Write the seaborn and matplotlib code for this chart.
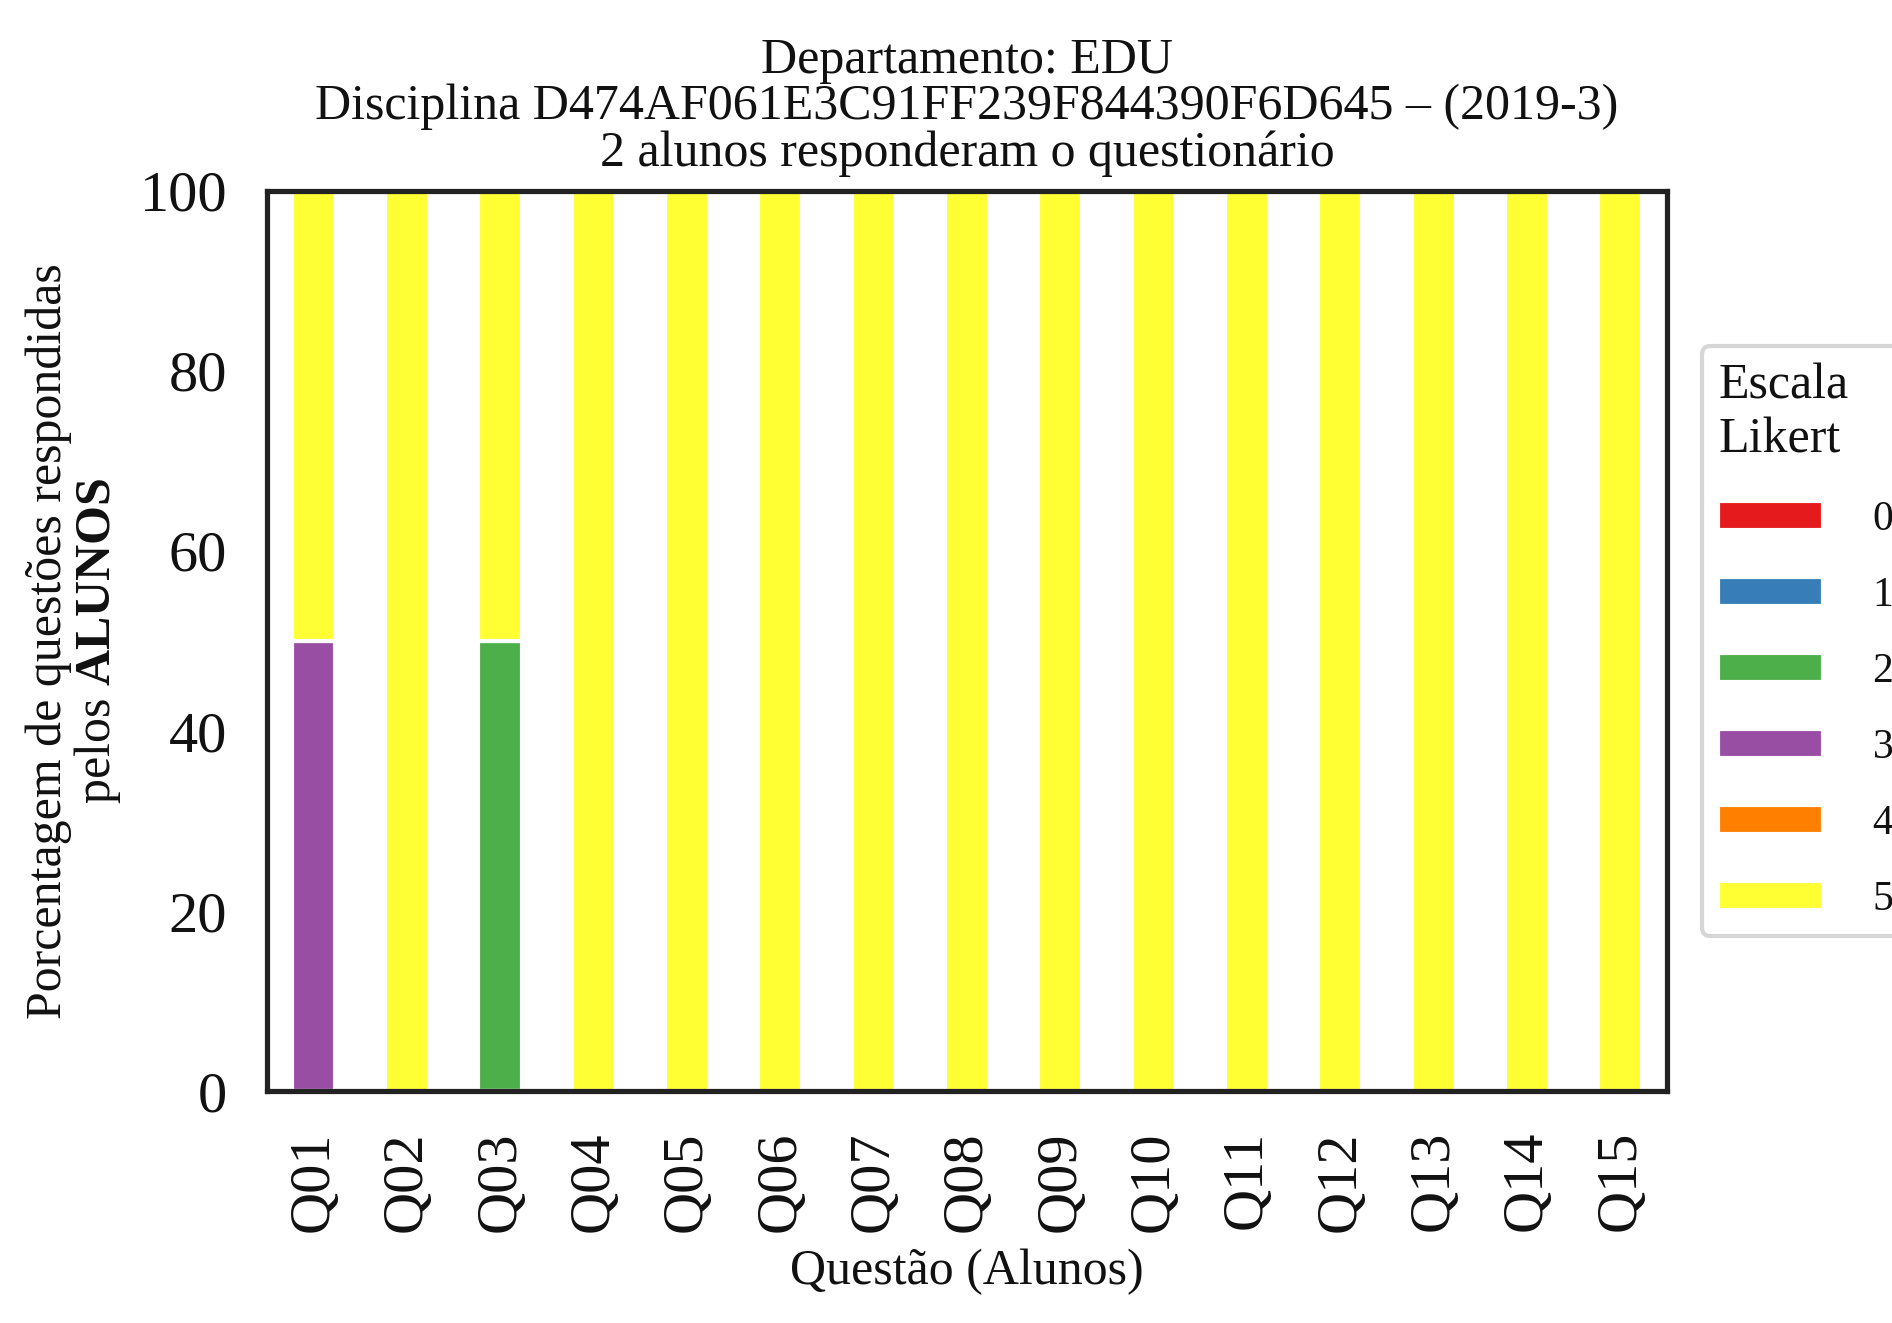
import pandas as pd
import matplotlib.pyplot as plt
import seaborn as sns

questoes = [f"Q{i:02d}" for i in range(1, 16)]
escala = ["0", "1", "2", "3", "4", "5"]
pct_0 = [0] * 15
pct_1 = [0] * 15
pct_2 = [0, 0, 50] + [0] * 12
pct_3 = [50] + [0] * 14
pct_4 = [0] * 15
pct_5 = [50, 100, 50] + [100] * 12

sns.set_theme(style="white")
plt.rcParams["font.family"] = ["Liberation Serif", "DejaVu Serif"]
plt.rcParams["mathtext.fontset"] = "custom"
plt.rcParams["mathtext.rm"] = "Liberation Serif"
plt.rcParams["mathtext.bf"] = "Liberation Serif:bold"
plt.rcParams["text.color"] = "#111111"
plt.rcParams["axes.labelcolor"] = "#111111"
plt.rcParams["xtick.color"] = "#111111"
plt.rcParams["ytick.color"] = "#111111"

df = pd.DataFrame({"0": pct_0, "1": pct_1, "2": pct_2, "3": pct_3,
                   "4": pct_4, "5": pct_5}, index=questoes)
cores = sns.color_palette("Set1", 6)
cores[5] = "#ffff33"

fig = plt.figure(figsize=(6.307, 4.41), dpi=300)
ax = fig.add_axes([0.141, 0.175, 0.74, 0.681])
df.plot(kind="bar", stacked=True, color=cores, ax=ax, width=0.47)

ax.set_ylim(0, 100)
ax.set_xlim(-0.5, 14.5)
ax.tick_params(axis="x", labelsize=14, rotation=90)
ax.tick_params(axis="y", labelsize=14)
for s in ax.spines.values():
    s.set_color("#222222")
ax.set_title("Departamento: EDU\nDisciplina D474AF061E3C91FF239F844390F6D645 – (2019-3)\n"
             "2 alunos responderam o questionário", fontsize=12, linespacing=1.0)
ax.set_xlabel("Questão (Alunos)", fontsize=12)
ax.set_ylabel("Porcentagem de questões respondidas\npelos $\\mathbf{ALUNOS}$", fontsize=12,
              linespacing=1.0)
leg = ax.legend(title="Escala\nLikert", loc="center left", bbox_to_anchor=(1.01, 0.5),
                fontsize=10, title_fontsize=12, handlelength=2.5, labelspacing=0.9,
                handletextpad=1.2)
leg._legend_box.align = "left"
fig.savefig("out.png", dpi=300)
